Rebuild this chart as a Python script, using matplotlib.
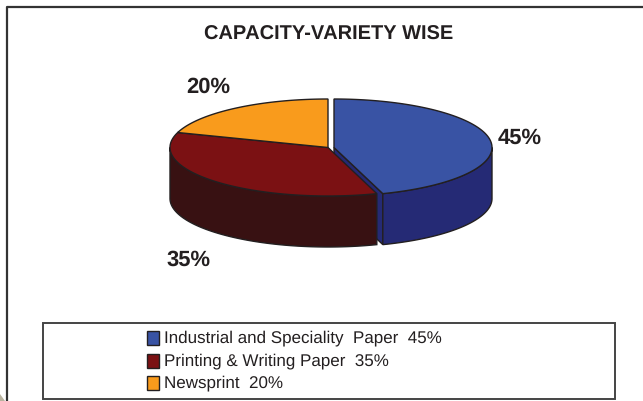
import matplotlib
matplotlib.use("Agg")
import matplotlib.pyplot as plt
import numpy as np
from matplotlib.patches import Polygon, Rectangle

title = "CAPACITY-VARIETY WISE"
labels = ["Industrial and Speciality  Paper", "Printing & Writing Paper", "Newsprint"]
shares = [45, 35, 20]
top_colors = ["#3953A4", "#7B1113", "#F99B1C"]
side_colors = ["#252A75", "#381112", "#F99B1C"]
edge = "#231F20"
text_color = "#231F20"

# pie geometry in pixels
rx, ry = 158, 48.5
depth = 51
cy = 147.5
centers = [334, 328, 328]
label_pos = [(519.5, 138.5), (189, 260.5), (208, 87.5)]

plt.rcParams["text.hinting"] = "none"
plt.rcParams["text.hinting_factor"] = 1
plt.rcParams["font.family"] = ["Liberation Sans", "DejaVu Sans"]

fig = plt.figure(figsize=(6.43, 4.01), dpi=100)
ax = fig.add_axes([0, 0, 1, 1])
ax.set_xlim(0, 643)
ax.set_ylim(401, 0)
ax.axis("off")

# moldura externa
ax.plot([6.5, 6.5, 643], [401, 7, 7], color="#333333", lw=1.6, zorder=1)
ax.add_patch(Polygon([(0, 394), (5, 401), (0, 401)], fc="#B9B39F", ec="none"))


def arc(cx, a0, a1, dy=0):
    t = np.radians(np.linspace(a0, a1, 120))
    return np.column_stack([cx + rx * np.cos(t), cy + dy + ry * np.sin(t)])


# fatias: angulo em sentido horario a partir do topo (y do eixo invertido)
start = -90
for i, share in enumerate(shares):
    end = start + share / 100 * 360
    cx = centers[i]
    # parede lateral so na parte frontal
    a0, a1 = max(start, 0), min(end, 180)
    if a1 > a0:
        front = arc(cx, a0, a1)
        back = arc(cx, a1, a0, depth)
        ax.add_patch(Polygon(np.vstack([front, back]), fc=side_colors[i], ec=edge, lw=1, zorder=2))
    # face de corte do azul
    if i == 0:
        p_end = arc(cx, end, end)[0]
        ax.add_patch(Polygon([(cx, cy), p_end, (p_end[0], p_end[1] + depth), (cx, cy + depth)],
                             fc=side_colors[i], ec=edge, lw=1, zorder=1.5))
    top = np.vstack([[(cx, cy)], arc(cx, start, end)])
    ax.add_patch(Polygon(top, fc=top_colors[i], ec=edge, lw=1, zorder=3 + (i == 0)))
    start = end

for share, (x, y) in zip(shares, label_pos):
    ax.text(x, y, f"{share}%", ha="center", va="center", fontsize=15.6, fontweight="bold", color=text_color)

ax.text(328.5, 35, title, ha="center", va="center", fontsize=14.15, fontweight="bold", color=text_color)

# legenda
ax.add_patch(Rectangle((43, 323), 572, 75.5, fc="white", ec="#444444", lw=1.4, zorder=2))
for i, (label, share) in enumerate(zip(labels, shares)):
    y = 338 + i * 22.5
    ax.add_patch(Rectangle((146.5, y - 7), 12, 14, fc=top_colors[i], ec=edge, lw=1, zorder=3))
    ax.text(164, y + 0.5, f"{label}  {share}%", ha="left", va="center", fontsize=12.55, color=text_color, zorder=3)

fig.savefig("out.png", dpi=100)
